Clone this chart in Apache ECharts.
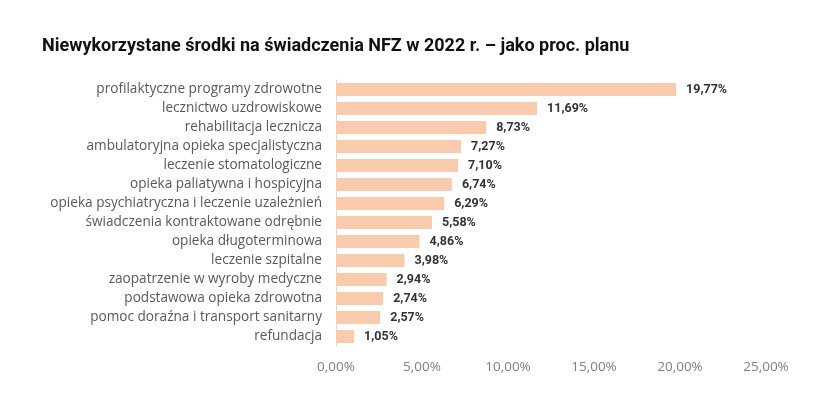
<!DOCTYPE html>
<html>
<head>
<meta charset="utf-8">
<script src="https://cdn.jsdelivr.net/npm/echarts@6/dist/echarts.min.js"></script>
<style>
  html, body { margin: 0; padding: 0; background: #fff; }
  #chart { width: 830px; height: 397px; }
</style>
</head>
<body>
<div id="chart"></div>
<script>
// kategorie od góry do dołu
const categories = [
  'profilaktyczne programy zdrowotne',
  'lecznictwo uzdrowiskowe',
  'rehabilitacja lecznicza',
  'ambulatoryjna opieka specjalistyczna',
  'leczenie stomatologiczne',
  'opieka paliatywna i hospicyjna',
  'opieka psychiatryczna i leczenie uzależnień',
  'świadczenia kontraktowane odrębnie',
  'opieka długoterminowa',
  'leczenie szpitalne',
  'zaopatrzenie w wyroby medyczne',
  'podstawowa opieka zdrowotna',
  'pomoc doraźna i transport sanitarny',
  'refundacja'
];
const values = [19.77, 11.69, 8.73, 7.27, 7.10, 6.74, 6.29, 5.58, 4.86, 3.98, 2.94, 2.74, 2.57, 1.05];
const xTicks = [0, 5, 10, 15, 20, 25];

function fmt(v) {
  return v.toFixed(2).replace('.', ',') + '%';
}

const chart = echarts.init(document.getElementById('chart'));
chart.setOption({
  animation: false,
  title: {
    text: 'Niewykorzystane środki na świadczenia NFZ w 2022 r. – jako proc. planu',
    left: 37,
    top: 32,
    textStyle: { fontFamily: 'Roboto', fontWeight: 'bold', fontSize: 18, color: '#111' }
  },
  grid: { left: 336, right: 64, top: 80, bottom: 51 },
  xAxis: {
    type: 'value',
    min: xTicks[0],
    max: xTicks[xTicks.length - 1],
    interval: 5,
    splitLine: { show: false },
    axisLine: { show: false },
    axisTick: { show: false },
    axisLabel: {
      margin: 14,
      color: '#7f7f7f',
      fontFamily: 'Open Sans',
      fontSize: 13.5,
      formatter: v => fmt(v)
    }
  },
  yAxis: {
    type: 'category',
    data: categories.slice().reverse(),
    axisLine: { show: true, lineStyle: { color: '#d9d9d9' } },
    axisTick: { show: false },
    axisLabel: { margin: 14, color: '#595959', fontFamily: 'Open Sans', fontSize: 13.6 }
  },
  series: [{
    type: 'bar',
    data: values.slice().reverse(),
    barWidth: 13,
    itemStyle: { color: '#f8cbad' },
    label: {
      show: true,
      position: 'right',
      distance: 10,
      color: '#333',
      fontFamily: 'Roboto',
      fontWeight: 'bold',
      fontSize: 12.5,
      formatter: p => fmt(p.value)
    }
  }]
});
</script>
</body>
</html>
